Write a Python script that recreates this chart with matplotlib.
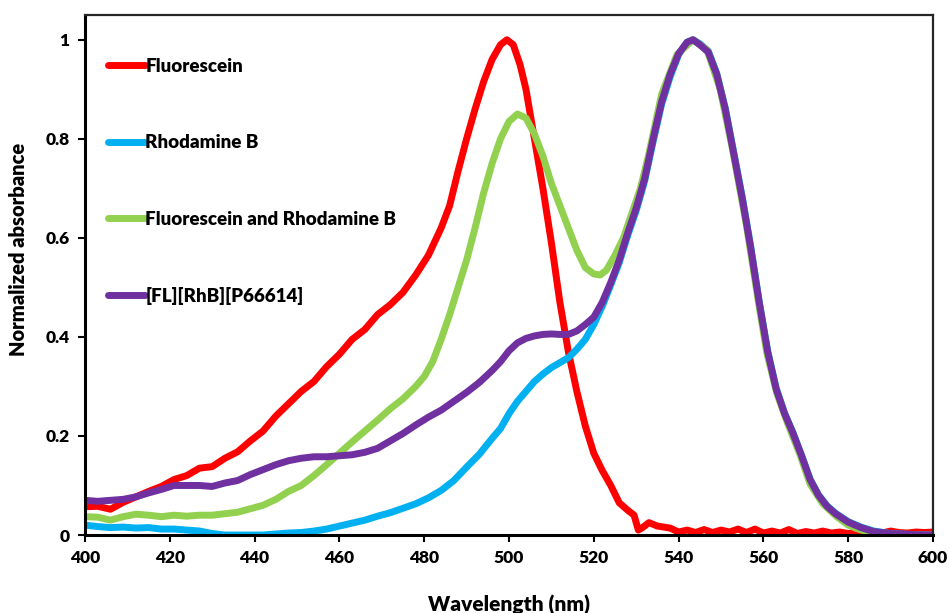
import matplotlib
matplotlib.use("Agg")
import matplotlib.pyplot as plt

# ---------------- data ----------------
wl_fl = [400, 403, 406, 409, 412, 415, 418, 421, 424, 427, 430, 433, 436, 439, 442, 445,
         448, 451, 454, 457, 460, 463, 466, 469, 472, 475, 478, 481, 484, 486, 488, 490,
         492, 494, 496, 498, 499.5, 501, 502.6, 504, 506, 508, 510, 512, 514, 516, 518,
         520, 522, 524, 526, 528, 529.5, 530.5, 531.5, 533, 535, 538, 540, 542, 544, 546,
         548, 550, 552, 554, 556, 558, 560, 562, 564, 566, 568, 570, 572, 574, 576, 578,
         580, 582, 584, 586, 588, 590, 592, 594, 596, 598, 600]
abs_fl = [0.057, 0.058, 0.052, 0.066, 0.077, 0.088, 0.098, 0.112, 0.12, 0.135, 0.138, 0.155,
          0.168, 0.19, 0.21, 0.24, 0.265, 0.29, 0.31, 0.34, 0.365, 0.395, 0.415, 0.445,
          0.465, 0.49, 0.525, 0.565, 0.62, 0.665, 0.735, 0.8, 0.86, 0.915, 0.96, 0.99, 1.0,
          0.99, 0.95, 0.90, 0.80, 0.70, 0.59, 0.47, 0.37, 0.29, 0.22, 0.165, 0.13, 0.10,
          0.065, 0.05, 0.04, 0.01, 0.015, 0.025, 0.018, 0.014, 0.006, 0.01, 0.005, 0.011,
          0.005, 0.01, 0.006, 0.012, 0.005, 0.012, 0.004, 0.008, 0.004, 0.011, 0.003, 0.007,
          0.004, 0.008, 0.004, 0.006, 0.003, 0.004, 0.002, 0.003, 0.004, 0.008, 0.005, 0.004,
          0.006, 0.005, 0.006]

wl_rhb = [400, 403, 406, 409, 412, 415, 418, 421, 424, 427, 430, 433, 436, 439, 442, 445,
          448, 451, 454, 457, 460, 463, 466, 469, 472, 475, 478, 481, 484, 487, 490, 493,
          496, 498, 500, 502, 504, 506, 508, 510, 512, 514, 516, 518, 520, 522, 524, 526,
          528, 530, 532, 534, 536, 538, 540, 542, 543.4, 545, 547, 549, 551, 553, 555, 557,
          559, 561, 563, 565, 567, 569, 571, 573, 575, 577, 580, 583, 586, 590, 595, 600]
abs_rhb = [0.02, 0.017, 0.015, 0.016, 0.014, 0.015, 0.012, 0.012, 0.01, 0.008, 0.003, 0.0,
           0.0, 0.0, 0.0, 0.002, 0.004, 0.005, 0.008, 0.012, 0.018, 0.024, 0.03, 0.038,
           0.045, 0.054, 0.063, 0.075, 0.09, 0.11, 0.137, 0.163, 0.195, 0.215, 0.245, 0.27,
           0.29, 0.31, 0.325, 0.338, 0.348, 0.358, 0.375, 0.395, 0.425, 0.462, 0.505, 0.55,
           0.605, 0.655, 0.715, 0.795, 0.87, 0.925, 0.97, 0.995, 1.0, 0.992, 0.977, 0.932,
           0.862, 0.773, 0.683, 0.583, 0.472, 0.372, 0.297, 0.246, 0.206, 0.161, 0.113,
           0.081, 0.059, 0.044, 0.027, 0.016, 0.008, 0.003, 0.001, 0.0]

wl_mix = [400, 403, 406, 409, 412, 415, 418, 421, 424, 427, 430, 433, 436, 439, 442, 445,
          448, 451, 454, 457, 460, 463, 466, 469, 472, 475, 478, 480, 482, 484, 486, 488,
          490, 492, 494, 496, 498, 500, 502, 504, 506, 508, 510, 512, 514, 516, 518, 520,
          521.5, 523, 525, 527, 529, 531, 533, 536, 539.6, 543.4, 546.7, 549.8, 552.8, 556,
          558.8, 560.8, 563.2, 565.6, 568.6, 571, 574, 577.3, 580, 582, 585, 588, 590, 600]
abs_mix = [0.037, 0.036, 0.03, 0.037, 0.042, 0.04, 0.037, 0.04, 0.038, 0.04, 0.04, 0.043,
           0.046, 0.053, 0.06, 0.072, 0.088, 0.1, 0.12, 0.142, 0.165, 0.188, 0.21, 0.232,
           0.255, 0.275, 0.3, 0.32, 0.35, 0.395, 0.445, 0.5, 0.555, 0.62, 0.69, 0.75, 0.8,
           0.835, 0.85, 0.842, 0.81, 0.765, 0.71, 0.665, 0.62, 0.575, 0.54, 0.527, 0.525,
           0.535, 0.565, 0.6, 0.65, 0.7, 0.77, 0.89, 0.97, 1.0, 0.98, 0.9, 0.775, 0.625,
           0.472, 0.368, 0.285, 0.228, 0.163, 0.103, 0.063, 0.037, 0.02, 0.013, 0.005, 0.001,
           0.0, 0.0]

wl_il = [400, 403, 406, 409, 412, 415, 418, 421, 424, 427, 430, 433, 436, 439, 442, 445,
         448, 451, 454, 457, 460, 463, 466, 469, 472, 475, 478, 481, 484, 487, 490, 493,
         496, 498, 500, 502, 504, 506, 508, 510, 512, 514, 516, 518, 520, 522, 524, 526,
         528, 530, 532, 534, 536, 538, 540, 542, 543.4, 545, 547, 549, 551, 553, 555, 557,
         559, 561, 563, 565, 567, 569, 571, 573, 575, 577, 580, 583, 586, 590, 595, 600]
abs_il = [0.07, 0.068, 0.07, 0.072, 0.077, 0.085, 0.092, 0.1, 0.1, 0.1, 0.098, 0.105, 0.11,
          0.122, 0.132, 0.142, 0.15, 0.155, 0.158, 0.158, 0.16, 0.162, 0.167, 0.175, 0.19,
          0.205, 0.222, 0.238, 0.252, 0.27, 0.288, 0.308, 0.332, 0.35, 0.372, 0.388, 0.397,
          0.402, 0.405, 0.406, 0.405, 0.405, 0.412, 0.425, 0.44, 0.47, 0.51, 0.555, 0.61,
          0.66, 0.72, 0.8, 0.875, 0.93, 0.972, 0.995, 1.0, 0.99, 0.975, 0.93, 0.86, 0.77,
          0.68, 0.58, 0.47, 0.37, 0.295, 0.245, 0.205, 0.16, 0.112, 0.08, 0.058, 0.043,
          0.026, 0.015, 0.007, 0.003, 0.001, 0.0]

labels = ["Fluorescein", "Rhodamine B", "Fluorescein and Rhodamine B", "[FL][RhB][P66614]"]
colors = ["#FF0000", "#00B0F0", "#92D050", "#7030A0"]
x_ticks = [400, 420, 440, 460, 480, 500, 520, 540, 560, 580, 600]
y_ticks = [0, 0.2, 0.4, 0.6, 0.8, 1.0]
y_tick_labels = ["0", "0.2", "0.4", "0.6", "0.8", "1"]

# ---------------- plot ----------------
plt.rcParams['font.family'] = ['Lato', 'DejaVu Sans']
plt.rcParams['font.weight'] = 'heavy'

fig = plt.figure(figsize=(9.5, 6.13), dpi=100)
ax = fig.add_axes([85 / 950, 78 / 613, 848 / 950, 520 / 613])

series = [(wl_fl, abs_fl), (wl_rhb, abs_rhb), (wl_mix, abs_mix), (wl_il, abs_il)]
for (xs, ys), lab, col in zip(series, labels, colors):
    ax.plot(xs, ys, color=col, lw=5, label=lab, solid_capstyle='round',
            solid_joinstyle='round')

ax.set_xlim(400, 600)
ax.set_ylim(0, 1.05)
ax.set_xticks(x_ticks)
ax.set_xticklabels([str(t) for t in x_ticks])
ax.set_yticks(y_ticks)
ax.set_yticklabels(y_tick_labels)
ax.tick_params(axis='both', direction='out', length=5, width=1.5, labelsize=12.5,
               colors='black', pad=6)
for lab in ax.get_xticklabels() + ax.get_yticklabels():
    lab.set_fontweight('heavy')

ax.spines['left'].set_linewidth(2.2)
ax.spines['bottom'].set_linewidth(2.2)
ax.spines['left'].set_color('black')
ax.spines['bottom'].set_color('black')
ax.spines['top'].set_linewidth(1.6)
ax.spines['right'].set_linewidth(1.6)
ax.spines['top'].set_color('#262626')
ax.spines['right'].set_color('#262626')

ax.set_xlabel("Wavelength (nm)", fontsize=15, fontweight='heavy')
ax.xaxis.set_label_coords(0.5, -0.115)
ax.set_ylabel("Normalized absorbance", fontsize=14.5, fontweight='heavy')
ax.yaxis.set_label_coords(-0.067, 0.55)

leg = ax.legend(loc='upper left', bbox_to_anchor=(0.027, 0.918), frameon=False,
                fontsize=13.5, handlelength=2.0, handletextpad=0.0, labelspacing=3.17,
                borderpad=0, borderaxespad=0)
for t in leg.get_texts():
    t.set_fontweight('heavy')

fig.savefig("out.png", dpi=100)
